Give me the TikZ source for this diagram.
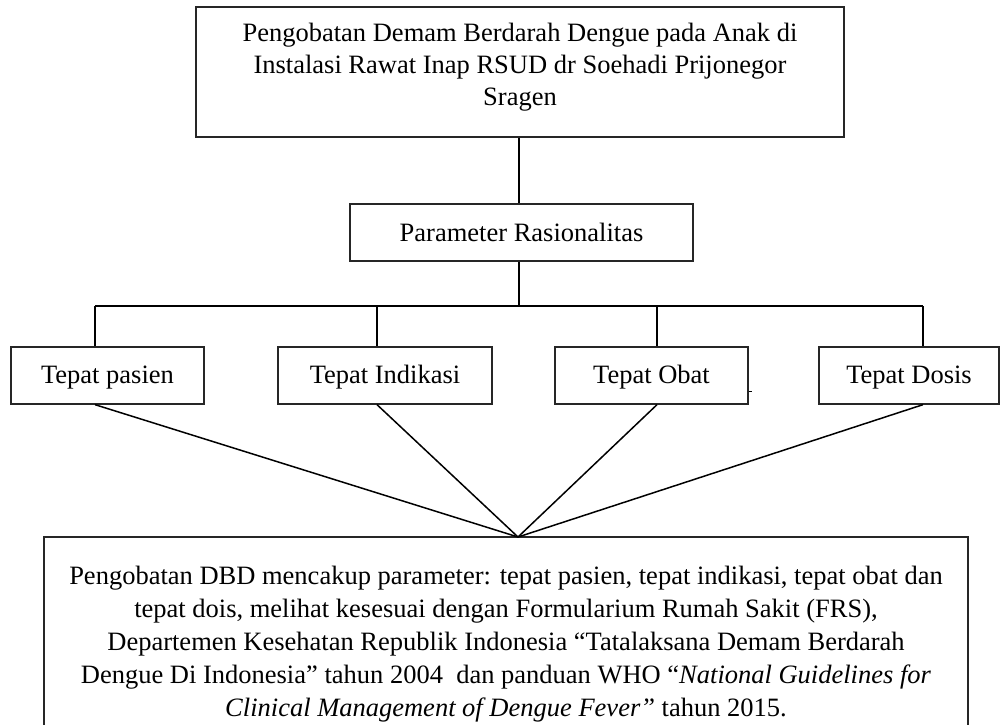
\documentclass[tikz,border=0pt]{standalone}
\usepackage{fontspec}
\setmainfont{Liberation Serif}
\begin{document}
\begin{tikzpicture}[x=1pt,y=-1pt,
  frame/.style={draw=black!85, line width=1.3pt, rectangle, inner sep=0pt},
  box/.style={frame, align=center, font=\fontsize{26.5}{32}\selectfont},
  label/.style={frame, font=\fontsize{26.5}{32}\selectfont,
    execute at begin node={\rule[-4pt]{0pt}{26pt}}},
  words/.style={inner sep=0pt, align=center},
  link/.style={draw=black, line width=1.5pt}]
\useasboundingbox (0,0) rectangle (1001,724);
\clip (0,0) rectangle (1001,724);

% title and parameter boxes
\node[frame, minimum width=648, minimum height=130] (top) at (520,72) {};
\node[words, font=\fontsize{26.5}{32}\selectfont] (toptext) at (520,67)
  {Pengobatan Demam Berdarah Dengue pada Anak di\\
   Instalasi Rawat Inap RSUD dr Soehadi Prijonegor\\
   Sragen};
\node[label, minimum width=343, minimum height=57] (param) at (521.5,232.5)
  {Parameter Rasionalitas};

% the four criteria
\node[label, minimum width=193, minimum height=57] (pasien)   at (107.5,375.5) {Tepat pasien};
\node[label, minimum width=214, minimum height=57] (indikasi) at (385,375.5)   {Tepat Indikasi};
\node[label, minimum width=193, minimum height=57] (obat)     at (651.5,375.5) {Tepat Obat};
\node[label, minimum width=180, minimum height=57] (dosis)    at (909,375.5)   {Tepat Dosis};

% summary box (runs past the lower edge)
\node[box, minimum width=924, minimum height=214, font=\fontsize{26.5}{33}\selectfont]
  (summary) at (506,644)
  {Pengobatan DBD mencakup parameter: tepat pasien, tepat indikasi, tepat obat dan\\
   tepat dois, melihat kesesuai dengan Formularium Rumah Sakit (FRS),\\
   Departemen Kesehatan Republik Indonesia “Tatalaksana Demam Berdarah\\
   Dengue Di Indonesia” tahun 2004\ \ dan panduan WHO “\textit{National Guidelines for}\\
   \textit{Clinical Management of Dengue Fever”} tahun 2015.};

% tree connectors
\coordinate (hub) at (519,306);
\coordinate (b1) at (95,306);
\coordinate (b2) at (377,306);
\coordinate (b3) at (657,306);
\coordinate (b4) at (923,306);
\coordinate (meet) at (518,537);

\draw[link] (top.south -| hub) -- (param.north -| hub);
\draw[link] (param.south -| hub) -- (hub);
\draw[link] (b1) -- (b4);
\draw[link] (b1) -- (b1 |- pasien.north);
\draw[link] (b2) -- (b2 |- indikasi.north);
\draw[link] (b3) -- (b3 |- obat.north);
\draw[link] (b4) -- (b4 |- dosis.north);

% converging lines to the summary
\draw[link] (b1 |- pasien.south) -- (meet);
\draw[link] (b2 |- indikasi.south) -- (meet);
\draw[link] (b3 |- obat.south) -- (meet);
\draw[link] (b4 |- dosis.south) -- (meet);

% small tick on the right side of the Obat box
\draw[line width=1pt] ([yshift=-16pt]obat.east) -- ++(3,0);
\end{tikzpicture}
\end{document}
